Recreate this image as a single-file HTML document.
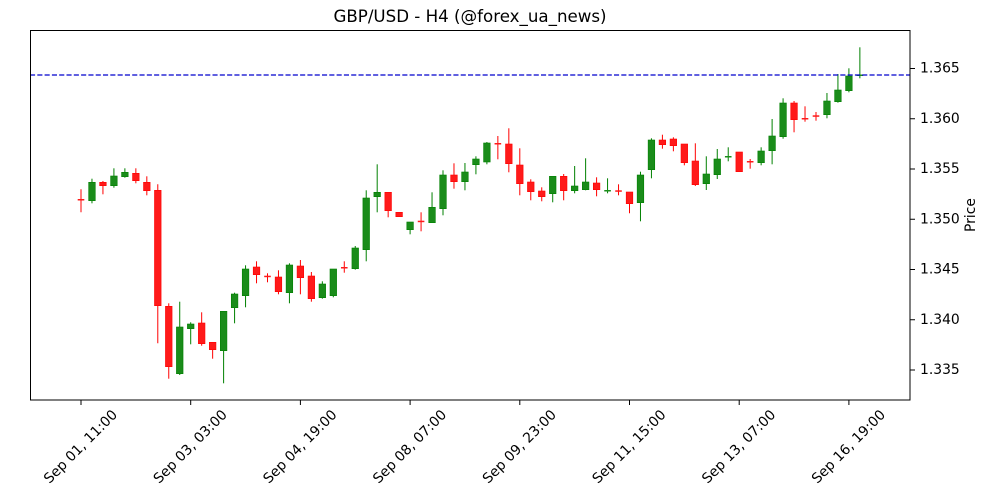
<!DOCTYPE html>
<html><head><meta charset="utf-8"><style>
html,body{margin:0;padding:0;background:#fff;}
svg{display:block;font-family:"DejaVu Sans","Liberation Sans",sans-serif;}
</style></head><body>
<svg width="1000" height="500" viewBox="0 0 1000 500" xmlns="http://www.w3.org/2000/svg">
<rect x="0" y="0" width="1000" height="500" fill="#fff"/>
<text x="470" y="22" font-size="16.67" text-anchor="middle" fill="#000">GBP/USD - H4 (@forex_ua_news)</text>
<g id="candles">
<g transform="translate(81,0)"><line x1="0" x2="0" y1="189.3" y2="212.3" stroke="#ff0000" stroke-width="1"/><rect x="-3.3" y="199" width="6.6" height="1.5" fill="#ff1a1a"/></g>
<g transform="translate(91.97,0)"><line x1="0" x2="0" y1="178.7" y2="203.3" stroke="#008000" stroke-width="1"/><rect x="-3.3" y="182.3" width="6.6" height="18.4" fill="#1a8c1a" stroke="#008000" stroke-width="0.6"/></g>
<g transform="translate(102.94,0)"><line x1="0" x2="0" y1="181" y2="194.3" stroke="#ff0000" stroke-width="1"/><rect x="-3.3" y="182.3" width="6.6" height="3.4" fill="#ff1a1a" stroke="#ff0000" stroke-width="0.6"/></g>
<g transform="translate(113.91,0)"><line x1="0" x2="0" y1="168.3" y2="187.7" stroke="#008000" stroke-width="1"/><rect x="-3.3" y="176" width="6.6" height="9.7" fill="#1a8c1a" stroke="#008000" stroke-width="0.6"/></g>
<g transform="translate(124.88,0)"><line x1="0" x2="0" y1="168.3" y2="177.7" stroke="#008000" stroke-width="1"/><rect x="-3.3" y="172.3" width="6.6" height="4.4" fill="#1a8c1a" stroke="#008000" stroke-width="0.6"/></g>
<g transform="translate(135.85,0)"><line x1="0" x2="0" y1="168.3" y2="183.3" stroke="#ff0000" stroke-width="1"/><rect x="-3.3" y="173.3" width="6.6" height="7.4" fill="#ff1a1a" stroke="#ff0000" stroke-width="0.6"/></g>
<g transform="translate(146.82,0)"><line x1="0" x2="0" y1="176.3" y2="195.3" stroke="#ff0000" stroke-width="1"/><rect x="-3.3" y="182.3" width="6.6" height="8.4" fill="#ff1a1a" stroke="#ff0000" stroke-width="0.6"/></g>
<g transform="translate(157.79,0)"><line x1="0" x2="0" y1="184.3" y2="343.3" stroke="#ff0000" stroke-width="1"/><rect x="-3.3" y="190.3" width="6.6" height="115.4" fill="#ff1a1a" stroke="#ff0000" stroke-width="0.6"/></g>
<g transform="translate(168.76,0)"><line x1="0" x2="0" y1="303.3" y2="378.7" stroke="#ff0000" stroke-width="1"/><rect x="-3.3" y="306.3" width="6.6" height="60.4" fill="#ff1a1a" stroke="#ff0000" stroke-width="0.6"/></g>
<g transform="translate(179.73,0)"><line x1="0" x2="0" y1="301.7" y2="375" stroke="#008000" stroke-width="1"/><rect x="-3.3" y="327" width="6.6" height="46.7" fill="#1a8c1a" stroke="#008000" stroke-width="0.6"/></g>
<g transform="translate(190.7,0)"><line x1="0" x2="0" y1="322.3" y2="344.3" stroke="#008000" stroke-width="1"/><rect x="-3.3" y="324" width="6.6" height="4.7" fill="#1a8c1a" stroke="#008000" stroke-width="0.6"/></g>
<g transform="translate(201.67,0)"><line x1="0" x2="0" y1="312.3" y2="345.7" stroke="#ff0000" stroke-width="1"/><rect x="-3.3" y="323" width="6.6" height="20.7" fill="#ff1a1a" stroke="#ff0000" stroke-width="0.6"/></g>
<g transform="translate(212.64,0)"><line x1="0" x2="0" y1="342.3" y2="358.7" stroke="#ff0000" stroke-width="1"/><rect x="-3.3" y="342.3" width="6.6" height="7.4" fill="#ff1a1a" stroke="#ff0000" stroke-width="0.6"/></g>
<g transform="translate(223.61,0)"><line x1="0" x2="0" y1="311.3" y2="383.3" stroke="#008000" stroke-width="1"/><rect x="-3.3" y="311.3" width="6.6" height="39.4" fill="#1a8c1a" stroke="#008000" stroke-width="0.6"/></g>
<g transform="translate(234.58,0)"><line x1="0" x2="0" y1="292.7" y2="323.3" stroke="#008000" stroke-width="1"/><rect x="-3.3" y="294" width="6.6" height="13.7" fill="#1a8c1a" stroke="#008000" stroke-width="0.6"/></g>
<g transform="translate(245.55,0)"><line x1="0" x2="0" y1="265.3" y2="307.3" stroke="#008000" stroke-width="1"/><rect x="-3.3" y="269" width="6.6" height="26.7" fill="#1a8c1a" stroke="#008000" stroke-width="0.6"/></g>
<g transform="translate(256.52,0)"><line x1="0" x2="0" y1="261.3" y2="283.3" stroke="#ff0000" stroke-width="1"/><rect x="-3.3" y="267" width="6.6" height="7.7" fill="#ff1a1a" stroke="#ff0000" stroke-width="0.6"/></g>
<g transform="translate(267.49,0)"><line x1="0" x2="0" y1="273.3" y2="282.3" stroke="#ff0000" stroke-width="1"/><rect x="-3.3" y="275.7" width="6.6" height="1.5" fill="#ff1a1a"/></g>
<g transform="translate(278.46,0)"><line x1="0" x2="0" y1="270.3" y2="294.3" stroke="#ff0000" stroke-width="1"/><rect x="-3.3" y="277" width="6.6" height="14.7" fill="#ff1a1a" stroke="#ff0000" stroke-width="0.6"/></g>
<g transform="translate(289.43,0)"><line x1="0" x2="0" y1="263.3" y2="303.3" stroke="#008000" stroke-width="1"/><rect x="-3.3" y="265" width="6.6" height="27.7" fill="#1a8c1a" stroke="#008000" stroke-width="0.6"/></g>
<g transform="translate(300.4,0)"><line x1="0" x2="0" y1="260" y2="294.3" stroke="#ff0000" stroke-width="1"/><rect x="-3.3" y="266" width="6.6" height="11.7" fill="#ff1a1a" stroke="#ff0000" stroke-width="0.6"/></g>
<g transform="translate(311.37,0)"><line x1="0" x2="0" y1="272" y2="301.7" stroke="#ff0000" stroke-width="1"/><rect x="-3.3" y="276" width="6.6" height="22.7" fill="#ff1a1a" stroke="#ff0000" stroke-width="0.6"/></g>
<g transform="translate(322.34,0)"><line x1="0" x2="0" y1="281.3" y2="298.7" stroke="#008000" stroke-width="1"/><rect x="-3.3" y="284" width="6.6" height="13.7" fill="#1a8c1a" stroke="#008000" stroke-width="0.6"/></g>
<g transform="translate(333.31,0)"><line x1="0" x2="0" y1="269" y2="297.3" stroke="#008000" stroke-width="1"/><rect x="-3.3" y="269" width="6.6" height="26.7" fill="#1a8c1a" stroke="#008000" stroke-width="0.6"/></g>
<g transform="translate(344.28,0)"><line x1="0" x2="0" y1="261.3" y2="272.7" stroke="#ff0000" stroke-width="1"/><rect x="-3.3" y="267" width="6.6" height="1.5" fill="#ff1a1a"/></g>
<g transform="translate(355.25,0)"><line x1="0" x2="0" y1="246" y2="269.7" stroke="#008000" stroke-width="1"/><rect x="-3.3" y="248" width="6.6" height="20.7" fill="#1a8c1a" stroke="#008000" stroke-width="0.6"/></g>
<g transform="translate(366.22,0)"><line x1="0" x2="0" y1="190.3" y2="261.3" stroke="#008000" stroke-width="1"/><rect x="-3.3" y="198" width="6.6" height="51.7" fill="#1a8c1a" stroke="#008000" stroke-width="0.6"/></g>
<g transform="translate(377.19,0)"><line x1="0" x2="0" y1="164.3" y2="212.3" stroke="#008000" stroke-width="1"/><rect x="-3.3" y="192.3" width="6.6" height="4.4" fill="#1a8c1a" stroke="#008000" stroke-width="0.6"/></g>
<g transform="translate(388.16,0)"><line x1="0" x2="0" y1="192.3" y2="217.3" stroke="#ff0000" stroke-width="1"/><rect x="-3.3" y="192.3" width="6.6" height="18.4" fill="#ff1a1a" stroke="#ff0000" stroke-width="0.6"/></g>
<g transform="translate(399.13,0)"><rect x="-3.3" y="212.3" width="6.6" height="4.4" fill="#ff1a1a" stroke="#ff0000" stroke-width="0.6"/></g>
<g transform="translate(410.1,0)"><line x1="0" x2="0" y1="222" y2="234.3" stroke="#008000" stroke-width="1"/><rect x="-3.3" y="222" width="6.6" height="7.7" fill="#1a8c1a" stroke="#008000" stroke-width="0.6"/></g>
<g transform="translate(421.07,0)"><line x1="0" x2="0" y1="212.3" y2="231.3" stroke="#ff0000" stroke-width="1"/><rect x="-3.3" y="220.7" width="6.6" height="1.5" fill="#ff1a1a"/></g>
<g transform="translate(432.04,0)"><line x1="0" x2="0" y1="192.3" y2="222.7" stroke="#008000" stroke-width="1"/><rect x="-3.3" y="207.3" width="6.6" height="15.4" fill="#1a8c1a" stroke="#008000" stroke-width="0.6"/></g>
<g transform="translate(443.01,0)"><line x1="0" x2="0" y1="170.3" y2="215.3" stroke="#008000" stroke-width="1"/><rect x="-3.3" y="175" width="6.6" height="33.7" fill="#1a8c1a" stroke="#008000" stroke-width="0.6"/></g>
<g transform="translate(453.98,0)"><line x1="0" x2="0" y1="163.3" y2="188.7" stroke="#ff0000" stroke-width="1"/><rect x="-3.3" y="175" width="6.6" height="6.7" fill="#ff1a1a" stroke="#ff0000" stroke-width="0.6"/></g>
<g transform="translate(464.95,0)"><line x1="0" x2="0" y1="163" y2="190.3" stroke="#008000" stroke-width="1"/><rect x="-3.3" y="172" width="6.6" height="9.7" fill="#1a8c1a" stroke="#008000" stroke-width="0.6"/></g>
<g transform="translate(475.92,0)"><line x1="0" x2="0" y1="156.3" y2="174.3" stroke="#008000" stroke-width="1"/><rect x="-3.3" y="159" width="6.6" height="5.7" fill="#1a8c1a" stroke="#008000" stroke-width="0.6"/></g>
<g transform="translate(486.89,0)"><line x1="0" x2="0" y1="142" y2="164.3" stroke="#008000" stroke-width="1"/><rect x="-3.3" y="143" width="6.6" height="19" fill="#1a8c1a" stroke="#008000" stroke-width="0.6"/></g>
<g transform="translate(497.86,0)"><line x1="0" x2="0" y1="136" y2="159.3" stroke="#ff0000" stroke-width="1"/><rect x="-3.3" y="143" width="6.6" height="1.5" fill="#ff1a1a"/></g>
<g transform="translate(508.83,0)"><line x1="0" x2="0" y1="128.3" y2="172.3" stroke="#ff0000" stroke-width="1"/><rect x="-3.3" y="144" width="6.6" height="19.7" fill="#ff1a1a" stroke="#ff0000" stroke-width="0.6"/></g>
<g transform="translate(519.8,0)"><line x1="0" x2="0" y1="148.3" y2="195.3" stroke="#ff0000" stroke-width="1"/><rect x="-3.3" y="165" width="6.6" height="18.7" fill="#ff1a1a" stroke="#ff0000" stroke-width="0.6"/></g>
<g transform="translate(530.77,0)"><line x1="0" x2="0" y1="179.3" y2="200.3" stroke="#ff0000" stroke-width="1"/><rect x="-3.3" y="182" width="6.6" height="9.7" fill="#ff1a1a" stroke="#ff0000" stroke-width="0.6"/></g>
<g transform="translate(541.74,0)"><line x1="0" x2="0" y1="187.3" y2="201.3" stroke="#ff0000" stroke-width="1"/><rect x="-3.3" y="191" width="6.6" height="5.7" fill="#ff1a1a" stroke="#ff0000" stroke-width="0.6"/></g>
<g transform="translate(552.71,0)"><line x1="0" x2="0" y1="176.3" y2="202.3" stroke="#008000" stroke-width="1"/><rect x="-3.3" y="176.3" width="6.6" height="17.4" fill="#1a8c1a" stroke="#008000" stroke-width="0.6"/></g>
<g transform="translate(563.68,0)"><line x1="0" x2="0" y1="174" y2="200.3" stroke="#ff0000" stroke-width="1"/><rect x="-3.3" y="176.3" width="6.6" height="14.4" fill="#ff1a1a" stroke="#ff0000" stroke-width="0.6"/></g>
<g transform="translate(574.65,0)"><line x1="0" x2="0" y1="166" y2="193.3" stroke="#008000" stroke-width="1"/><rect x="-3.3" y="186" width="6.6" height="4.7" fill="#1a8c1a" stroke="#008000" stroke-width="0.6"/></g>
<g transform="translate(585.62,0)"><line x1="0" x2="0" y1="158.3" y2="190.3" stroke="#008000" stroke-width="1"/><rect x="-3.3" y="182" width="6.6" height="7.7" fill="#1a8c1a" stroke="#008000" stroke-width="0.6"/></g>
<g transform="translate(596.59,0)"><line x1="0" x2="0" y1="177.3" y2="196.3" stroke="#ff0000" stroke-width="1"/><rect x="-3.3" y="183" width="6.6" height="6.7" fill="#ff1a1a" stroke="#ff0000" stroke-width="0.6"/></g>
<g transform="translate(607.56,0)"><line x1="0" x2="0" y1="178.3" y2="193.3" stroke="#008000" stroke-width="1"/><rect x="-3.3" y="190" width="6.6" height="1.5" fill="#1a8c1a"/></g>
<g transform="translate(618.53,0)"><line x1="0" x2="0" y1="184.3" y2="195.3" stroke="#ff0000" stroke-width="1"/><rect x="-3.3" y="190.3" width="6.6" height="1.5" fill="#ff1a1a"/></g>
<g transform="translate(629.5,0)"><line x1="0" x2="0" y1="192" y2="213.3" stroke="#ff0000" stroke-width="1"/><rect x="-3.3" y="192" width="6.6" height="11.7" fill="#ff1a1a" stroke="#ff0000" stroke-width="0.6"/></g>
<g transform="translate(640.47,0)"><line x1="0" x2="0" y1="171.7" y2="221.3" stroke="#008000" stroke-width="1"/><rect x="-3.3" y="175" width="6.6" height="27.7" fill="#1a8c1a" stroke="#008000" stroke-width="0.6"/></g>
<g transform="translate(651.44,0)"><line x1="0" x2="0" y1="138.3" y2="178.3" stroke="#008000" stroke-width="1"/><rect x="-3.3" y="140" width="6.6" height="29.7" fill="#1a8c1a" stroke="#008000" stroke-width="0.6"/></g>
<g transform="translate(662.41,0)"><line x1="0" x2="0" y1="134.7" y2="148.7" stroke="#ff0000" stroke-width="1"/><rect x="-3.3" y="140" width="6.6" height="4.7" fill="#ff1a1a" stroke="#ff0000" stroke-width="0.6"/></g>
<g transform="translate(673.38,0)"><line x1="0" x2="0" y1="137.3" y2="151.3" stroke="#ff0000" stroke-width="1"/><rect x="-3.3" y="139" width="6.6" height="6.7" fill="#ff1a1a" stroke="#ff0000" stroke-width="0.6"/></g>
<g transform="translate(684.35,0)"><line x1="0" x2="0" y1="144" y2="165.3" stroke="#ff0000" stroke-width="1"/><rect x="-3.3" y="144" width="6.6" height="18.7" fill="#ff1a1a" stroke="#ff0000" stroke-width="0.6"/></g>
<g transform="translate(695.32,0)"><line x1="0" x2="0" y1="143.3" y2="186" stroke="#ff0000" stroke-width="1"/><rect x="-3.3" y="161" width="6.6" height="23.7" fill="#ff1a1a" stroke="#ff0000" stroke-width="0.6"/></g>
<g transform="translate(706.29,0)"><line x1="0" x2="0" y1="156.3" y2="190" stroke="#008000" stroke-width="1"/><rect x="-3.3" y="174" width="6.6" height="9.7" fill="#1a8c1a" stroke="#008000" stroke-width="0.6"/></g>
<g transform="translate(717.26,0)"><line x1="0" x2="0" y1="149" y2="179" stroke="#008000" stroke-width="1"/><rect x="-3.3" y="159" width="6.6" height="15.7" fill="#1a8c1a" stroke="#008000" stroke-width="0.6"/></g>
<g transform="translate(728.23,0)"><line x1="0" x2="0" y1="147.3" y2="161.3" stroke="#008000" stroke-width="1"/><rect x="-3.3" y="156" width="6.6" height="1.5" fill="#1a8c1a"/></g>
<g transform="translate(739.2,0)"><rect x="-3.3" y="152" width="6.6" height="19.7" fill="#ff1a1a" stroke="#ff0000" stroke-width="0.6"/></g>
<g transform="translate(750.17,0)"><line x1="0" x2="0" y1="159" y2="168.7" stroke="#ff0000" stroke-width="1"/><rect x="-3.3" y="161" width="6.6" height="1.5" fill="#ff1a1a"/></g>
<g transform="translate(761.14,0)"><line x1="0" x2="0" y1="147.3" y2="165.3" stroke="#008000" stroke-width="1"/><rect x="-3.3" y="151" width="6.6" height="11.7" fill="#1a8c1a" stroke="#008000" stroke-width="0.6"/></g>
<g transform="translate(772.11,0)"><line x1="0" x2="0" y1="119" y2="164.3" stroke="#008000" stroke-width="1"/><rect x="-3.3" y="136" width="6.6" height="14.7" fill="#1a8c1a" stroke="#008000" stroke-width="0.6"/></g>
<g transform="translate(783.08,0)"><line x1="0" x2="0" y1="98.3" y2="138.7" stroke="#008000" stroke-width="1"/><rect x="-3.3" y="103" width="6.6" height="33.7" fill="#1a8c1a" stroke="#008000" stroke-width="0.6"/></g>
<g transform="translate(794.05,0)"><line x1="0" x2="0" y1="101" y2="132.3" stroke="#ff0000" stroke-width="1"/><rect x="-3.3" y="103" width="6.6" height="16.7" fill="#ff1a1a" stroke="#ff0000" stroke-width="0.6"/></g>
<g transform="translate(805.02,0)"><line x1="0" x2="0" y1="106.3" y2="121.7" stroke="#ff0000" stroke-width="1"/><rect x="-3.3" y="118" width="6.6" height="1.5" fill="#ff1a1a"/></g>
<g transform="translate(815.99,0)"><line x1="0" x2="0" y1="112" y2="120.7" stroke="#ff0000" stroke-width="1"/><rect x="-3.3" y="115.3" width="6.6" height="1.5" fill="#ff1a1a"/></g>
<g transform="translate(826.96,0)"><line x1="0" x2="0" y1="93" y2="118.3" stroke="#008000" stroke-width="1"/><rect x="-3.3" y="101" width="6.6" height="13.7" fill="#1a8c1a" stroke="#008000" stroke-width="0.6"/></g>
<g transform="translate(837.93,0)"><line x1="0" x2="0" y1="74" y2="102.7" stroke="#008000" stroke-width="1"/><rect x="-3.3" y="90" width="6.6" height="11.7" fill="#1a8c1a" stroke="#008000" stroke-width="0.6"/></g>
<g transform="translate(848.9,0)"><line x1="0" x2="0" y1="68.3" y2="92.3" stroke="#008000" stroke-width="1"/><rect x="-3.3" y="76" width="6.6" height="14.7" fill="#1a8c1a" stroke="#008000" stroke-width="0.6"/></g>
<g transform="translate(859.87,0)"><line x1="0" x2="0" y1="47.3" y2="78.3" stroke="#008000" stroke-width="1"/><rect x="-3.3" y="74.5" width="6.6" height="1.5" fill="#1a8c1a"/></g>
</g>
<line x1="30" x2="910" y1="75" y2="75" stroke="#0000cd" stroke-width="1.2" stroke-dasharray="5.1,2.2"/>
<rect x="30.5" y="30.5" width="879.5" height="369.5" fill="none" stroke="#000" stroke-width="1"/>
<g stroke="#000" stroke-width="1">
<line x1="910" x2="915" y1="68.5" y2="68.5"/>
<line x1="910" x2="915" y1="118.75" y2="118.75"/>
<line x1="910" x2="915" y1="169" y2="169"/>
<line x1="910" x2="915" y1="219.25" y2="219.25"/>
<line x1="910" x2="915" y1="269.5" y2="269.5"/>
<line x1="910" x2="915" y1="319.75" y2="319.75"/>
<line x1="910" x2="915" y1="370" y2="370"/>
<line x1="81" x2="81" y1="400" y2="405"/>
<line x1="190.7" x2="190.7" y1="400" y2="405"/>
<line x1="300.4" x2="300.4" y1="400" y2="405"/>
<line x1="410.1" x2="410.1" y1="400" y2="405"/>
<line x1="519.8" x2="519.8" y1="400" y2="405"/>
<line x1="629.5" x2="629.5" y1="400" y2="405"/>
<line x1="739.2" x2="739.2" y1="400" y2="405"/>
<line x1="848.9" x2="848.9" y1="400" y2="405"/>
</g>
<g font-size="13.9" fill="#000" dominant-baseline="central">
<text x="920" y="68.5">1.365</text>
<text x="920" y="118.75">1.360</text>
<text x="920" y="169">1.355</text>
<text x="920" y="219.25">1.350</text>
<text x="920" y="269.5">1.345</text>
<text x="920" y="319.75">1.340</text>
<text x="920" y="370">1.335</text>
</g>
<g font-size="13.9" fill="#000" text-anchor="middle" dominant-baseline="central">
<text x="81" y="447" transform="rotate(-45 81 447)">Sep 01, 11:00</text>
<text x="190.7" y="447" transform="rotate(-45 190.7 447)">Sep 03, 03:00</text>
<text x="300.4" y="447" transform="rotate(-45 300.4 447)">Sep 04, 19:00</text>
<text x="410.1" y="447" transform="rotate(-45 410.1 447)">Sep 08, 07:00</text>
<text x="519.8" y="447" transform="rotate(-45 519.8 447)">Sep 09, 23:00</text>
<text x="629.5" y="447" transform="rotate(-45 629.5 447)">Sep 11, 15:00</text>
<text x="739.2" y="447" transform="rotate(-45 739.2 447)">Sep 13, 07:00</text>
<text x="848.9" y="447" transform="rotate(-45 848.9 447)">Sep 16, 19:00</text>
</g>
<text x="971" y="215" font-size="13.9" text-anchor="middle" dominant-baseline="central" transform="rotate(-90 971 215)">Price</text>
</svg>
</body></html>
